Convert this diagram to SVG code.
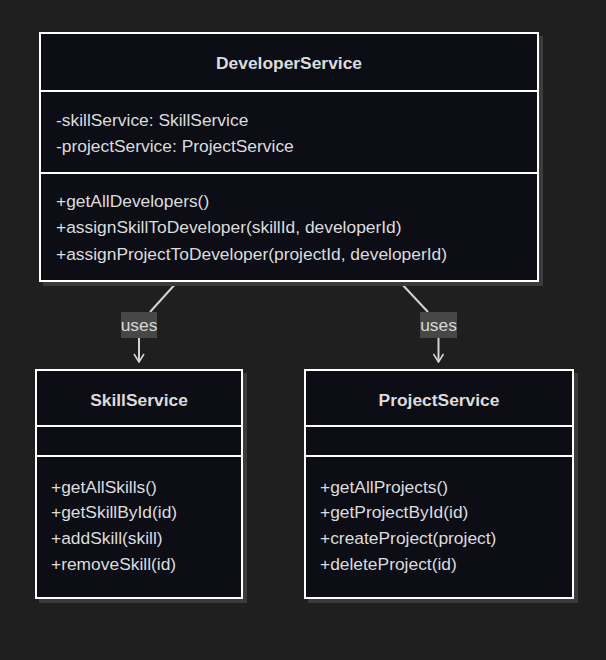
<svg xmlns="http://www.w3.org/2000/svg" width="606" height="660" viewBox="0 0 606 660">
<defs>
<marker id="arr" viewBox="0 0 12 12" refX="11" refY="6" markerWidth="12" markerHeight="12" markerUnits="userSpaceOnUse" orient="auto">
<path d="M3,1 L11,6 L3,11" fill="none" stroke="#d3d3d3" stroke-width="1.6"/>
</marker>
<filter id="sh" x="-5%" y="-5%" width="115%" height="115%">
<feOffset dx="4" dy="4" in="SourceAlpha" result="o"/>
<feFlood flood-color="#3a3a3a"/>
<feComposite in2="o" operator="in"/>
<feMerge><feMergeNode/><feMergeNode in="SourceGraphic"/></feMerge>
</filter>
</defs>
<style>
.box{fill:#0e0f17;stroke:#ffffff;stroke-width:2}
.div{stroke:#ffffff;stroke-width:2}
text{font-family:"Liberation Sans",Arial,sans-serif;font-size:17.4px;fill:#dcdcdc}
.t{font-weight:bold;text-anchor:middle}
.edge{stroke:#d3d3d3;stroke-width:2;fill:none}
.lbg{fill:#474747}
.lbl{text-anchor:middle;fill:#d8d8d8}
</style>
<rect width="606" height="660" fill="#1f1f1f"/>
<g id="connectors">
<path class="edge" d="M178,281 L150,312"/>
<path class="edge" d="M139,338 L139,362" marker-end="url(#arr)"/>
<rect class="lbg" x="121" y="312" width="36" height="26"/>
<text class="lbl" x="139" y="331">uses</text>
<path class="edge" d="M399,281 L428,312"/>
<path class="edge" d="M438.5,338 L438.5,362" marker-end="url(#arr)"/>
<rect class="lbg" x="420" y="312" width="37" height="26"/>
<text class="lbl" x="438.5" y="331">uses</text>
</g>
<g id="DeveloperService">
<rect class="box" x="40" y="33" width="498" height="248" filter="url(#sh)"/>
<line class="div" x1="40" y1="91" x2="538" y2="91"/>
<line class="div" x1="40" y1="173" x2="538" y2="173"/>
<text class="t" x="289" y="69">DeveloperService</text>
<text x="56" y="126">-skillService: SkillService</text>
<text x="56" y="152">-projectService: ProjectService</text>
<text x="56" y="207">+getAllDevelopers()</text>
<text x="56" y="233">+assignSkillToDeveloper(skillId, developerId)</text>
<text x="56" y="260">+assignProjectToDeveloper(projectId, developerId)</text>
</g>
<g id="SkillService">
<rect class="box" x="36" y="370" width="206" height="228" filter="url(#sh)"/>
<line class="div" x1="36" y1="426" x2="242" y2="426"/>
<line class="div" x1="36" y1="456" x2="242" y2="456"/>
<text class="t" x="139" y="406">SkillService</text>
<text x="51" y="493">+getAllSkills()</text>
<text x="51" y="518">+getSkillById(id)</text>
<text x="51" y="544">+addSkill(skill)</text>
<text x="51" y="570">+removeSkill(id)</text>
</g>
<g id="ProjectService">
<rect class="box" x="305" y="370" width="268" height="228" filter="url(#sh)"/>
<line class="div" x1="305" y1="426" x2="573" y2="426"/>
<line class="div" x1="305" y1="456" x2="573" y2="456"/>
<text class="t" x="439" y="406">ProjectService</text>
<text x="320" y="493">+getAllProjects()</text>
<text x="320" y="518">+getProjectById(id)</text>
<text x="320" y="544">+createProject(project)</text>
<text x="320" y="570">+deleteProject(id)</text>
</g>
</svg>
